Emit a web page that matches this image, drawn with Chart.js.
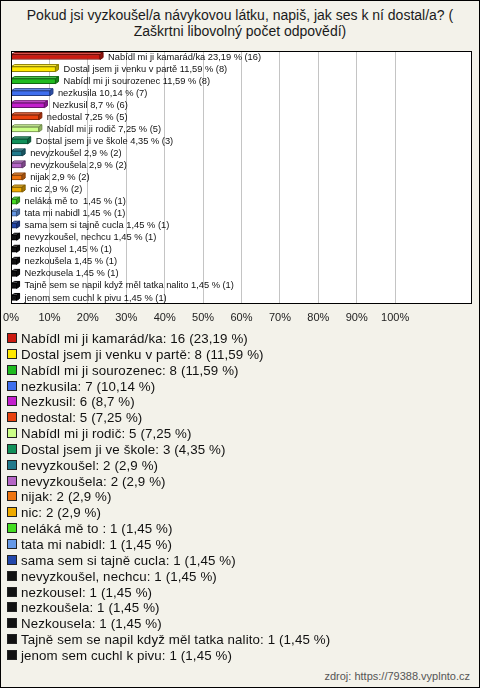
<!DOCTYPE html>
<html>
<head>
<meta charset="utf-8">
<script src="https://cdn.jsdelivr.net/npm/chart.js@4.4.1/dist/chart.umd.min.js"></script>
<style>
  html, body { margin: 0; padding: 0; }
  body { width: 480px; height: 688px; overflow: hidden; font-family: "Liberation Sans", Arial, sans-serif; }
  #wrap { position: relative; width: 478px; height: 686px; border: 1px solid #000; background: #f3f2ea; }
  #title { position: absolute; left: 0; top: 6px; width: 478px; text-align: center; font-size: 14px; line-height: 16px; color: #1a1a1a; }
  #cv { position: absolute; left: -1px; top: -1px; }
  #legend { position: absolute; left: 6px; top: 330px; }
  .li { height: 15.85px; line-height: 15.85px; font-size: 13.3px; letter-spacing: 0.12px; color: #111; white-space: nowrap; }
  .li span.box { display: inline-block; width: 8px; height: 8px; border: 1px solid #222; margin-right: 4px; vertical-align: 0px; }
  #src { position: absolute; right: 9px; top: 669px; font-size: 11px; color: #555; }
</style>
</head>
<body>
<div id="wrap">
  <div id="title">Pokud jsi vyzkoušel/a návykovou látku, napiš, jak ses k ní dostal/a? (<br>Zaškrtni libovolný počet odpovědí)</div>
  <canvas id="cv" width="480" height="340"></canvas>
  <div id="legend"></div>
  <div id="src">zdroj: https://79388.vyplnto.cz</div>
</div>
<script>
const categories = [
  'Nabídl mi ji kamarád/ka',
  'Dostal jsem ji venku v partě',
  'Nabídl mi ji sourozenec',
  'nezkusila',
  'Nezkusil',
  'nedostal',
  'Nabídl mi ji rodič',
  'Dostal jsem ji ve škole',
  'nevyzkoušel',
  'nevyzkoušela',
  'nijak',
  'nic',
  'neláká mě to ',
  'tata mi nabidl',
  'sama sem si tajně cucla',
  'nevyzkoušel, nechcu',
  'nezkousel',
  'nezkoušela',
  'Nezkousela',
  'Tajně sem se napil když měl tatka nalito',
  'jenom sem cuchl k pivu'
];
const counts = [16, 8, 8, 7, 6, 5, 5, 3, 2, 2, 2, 2, 1, 1, 1, 1, 1, 1, 1, 1, 1];
const percents = [23.19, 11.59, 11.59, 10.14, 8.7, 7.25, 7.25, 4.35, 2.9, 2.9, 2.9, 2.9, 1.45, 1.45, 1.45, 1.45, 1.45, 1.45, 1.45, 1.45, 1.45];
const tickValues = [0, 10, 20, 30, 40, 50, 60, 70, 80, 90, 100];

const colors = ['#cc1a10','#ffe800','#1fbb1f','#3f6fee','#c21fcc','#e8420f','#ccff88','#11905a','#217a8c','#b566c6','#ee7410','#eeaa00','#44dd22','#6699e6','#2247aa','#111111','#111111','#111111','#111111','#111111','#111111'];

function shade(hex, f) {
  const n = parseInt(hex.slice(1), 16);
  let r = (n >> 16) & 255, g = (n >> 8) & 255, b = n & 255;
  if (f < 0) { r = r * (1 + f); g = g * (1 + f); b = b * (1 + f); }
  else { r = r + (255 - r) * f; g = g + (255 - g) * f; b = b + (255 - b) * f; }
  return 'rgb(' + Math.round(r) + ',' + Math.round(g) + ',' + Math.round(b) + ')';
}
const fmt = v => String(v).replace('.', ',');

const DX = 3, DY = 2;

const areaPlugin = {
  id: 'area',
  beforeDraw(chart) {
    const a = chart.chartArea, c = chart.ctx;
    c.save();
    c.fillStyle = '#ffffff';
    c.fillRect(a.left, a.top, a.right - a.left, a.bottom - a.top);
    c.restore();
  },
  afterDraw(chart) {
    const a = chart.chartArea, c = chart.ctx;
    c.save();
    c.strokeStyle = '#000';
    c.lineWidth = 1;
    c.strokeRect(Math.round(a.left) + 0.5, Math.round(a.top) + 0.5, Math.round(a.right - a.left) - 1, Math.round(a.bottom - a.top) - 1);
    c.restore();
  }
};

const bar3d = {
  id: 'bar3d',
  afterDatasetsDraw(chart) {
    const c = chart.ctx;
    const meta = chart.getDatasetMeta(0);
    meta.data.forEach((el, i) => {
      const p = el.getProps(['x', 'y', 'base', 'height'], true);
      const top = p.y - p.height / 2, bot = p.y + p.height / 2;
      const col = colors[i];
      const edge = col === '#111111' ? '#000' : shade(col, -0.45);
      c.save();
      c.lineWidth = 1;
      c.strokeStyle = edge;
      c.beginPath();
      c.moveTo(p.base, top);
      c.lineTo(p.base + DX, top - DY);
      c.lineTo(p.x + DX, top - DY);
      c.lineTo(p.x, top);
      c.closePath();
      c.fillStyle = shade(col, 0.25);
      c.fill(); c.stroke();
      c.beginPath();
      c.moveTo(p.x, top);
      c.lineTo(p.x + DX, top - DY);
      c.lineTo(p.x + DX, bot - DY);
      c.lineTo(p.x, bot);
      c.closePath();
      c.fillStyle = shade(col, -0.3);
      c.fill(); c.stroke();
      c.fillStyle = '#111';
      c.font = '9.3px "Liberation Sans", Arial, sans-serif';
      c.textBaseline = 'middle';
      c.textAlign = 'left';
      c.fillText(categories[i] + ' ' + fmt(percents[i]) + ' % (' + counts[i] + ')', p.x + DX + 5, p.y);
      c.restore();
    });
  }
};

new Chart(document.getElementById('cv'), {
  type: 'bar',
  data: {
    labels: categories,
    datasets: [{
      data: percents,
      backgroundColor: colors,
      borderColor: colors.map(c => c === '#111111' ? '#000' : shade(c, -0.45)),
      borderWidth: 1,
      borderSkipped: false,
      barThickness: 5
    }]
  },
  plugins: [areaPlugin, bar3d],
  options: {
    indexAxis: 'y',
    responsive: false,
    animation: false,
    devicePixelRatio: 1,
    layout: { padding: { left: 11, right: 8, top: 51, bottom: 14 } },
    plugins: { legend: { display: false }, tooltip: { enabled: false }, title: { display: false } },
    scales: {
      x: {
        min: 0, max: 120,
        afterBuildTicks(axis) { axis.ticks = tickValues.map(v => ({ value: v })); },
        afterFit(axis) { axis.height = 22; axis.paddingLeft = 0; axis.paddingRight = 0; },
        ticks: {
          padding: 7,
          color: '#222',
          font: { size: 11, family: '"Liberation Sans", Arial, sans-serif' },
          callback: v => v + '%'
        },
        grid: { color: '#c4c4c4', lineWidth: 1, drawTicks: false },
        border: { display: false }
      },
      y: { display: false }
    }
  }
});

const lg = document.getElementById('legend');
categories.forEach((cat, i) => {
  const d = document.createElement('div');
  d.className = 'li';
  const b = document.createElement('span');
  b.className = 'box';
  b.style.background = colors[i];
  d.appendChild(b);
  d.appendChild(document.createTextNode(cat + ': ' + counts[i] + ' (' + fmt(percents[i]) + ' %)'));
  lg.appendChild(d);
});
</script>
</body>
</html>
